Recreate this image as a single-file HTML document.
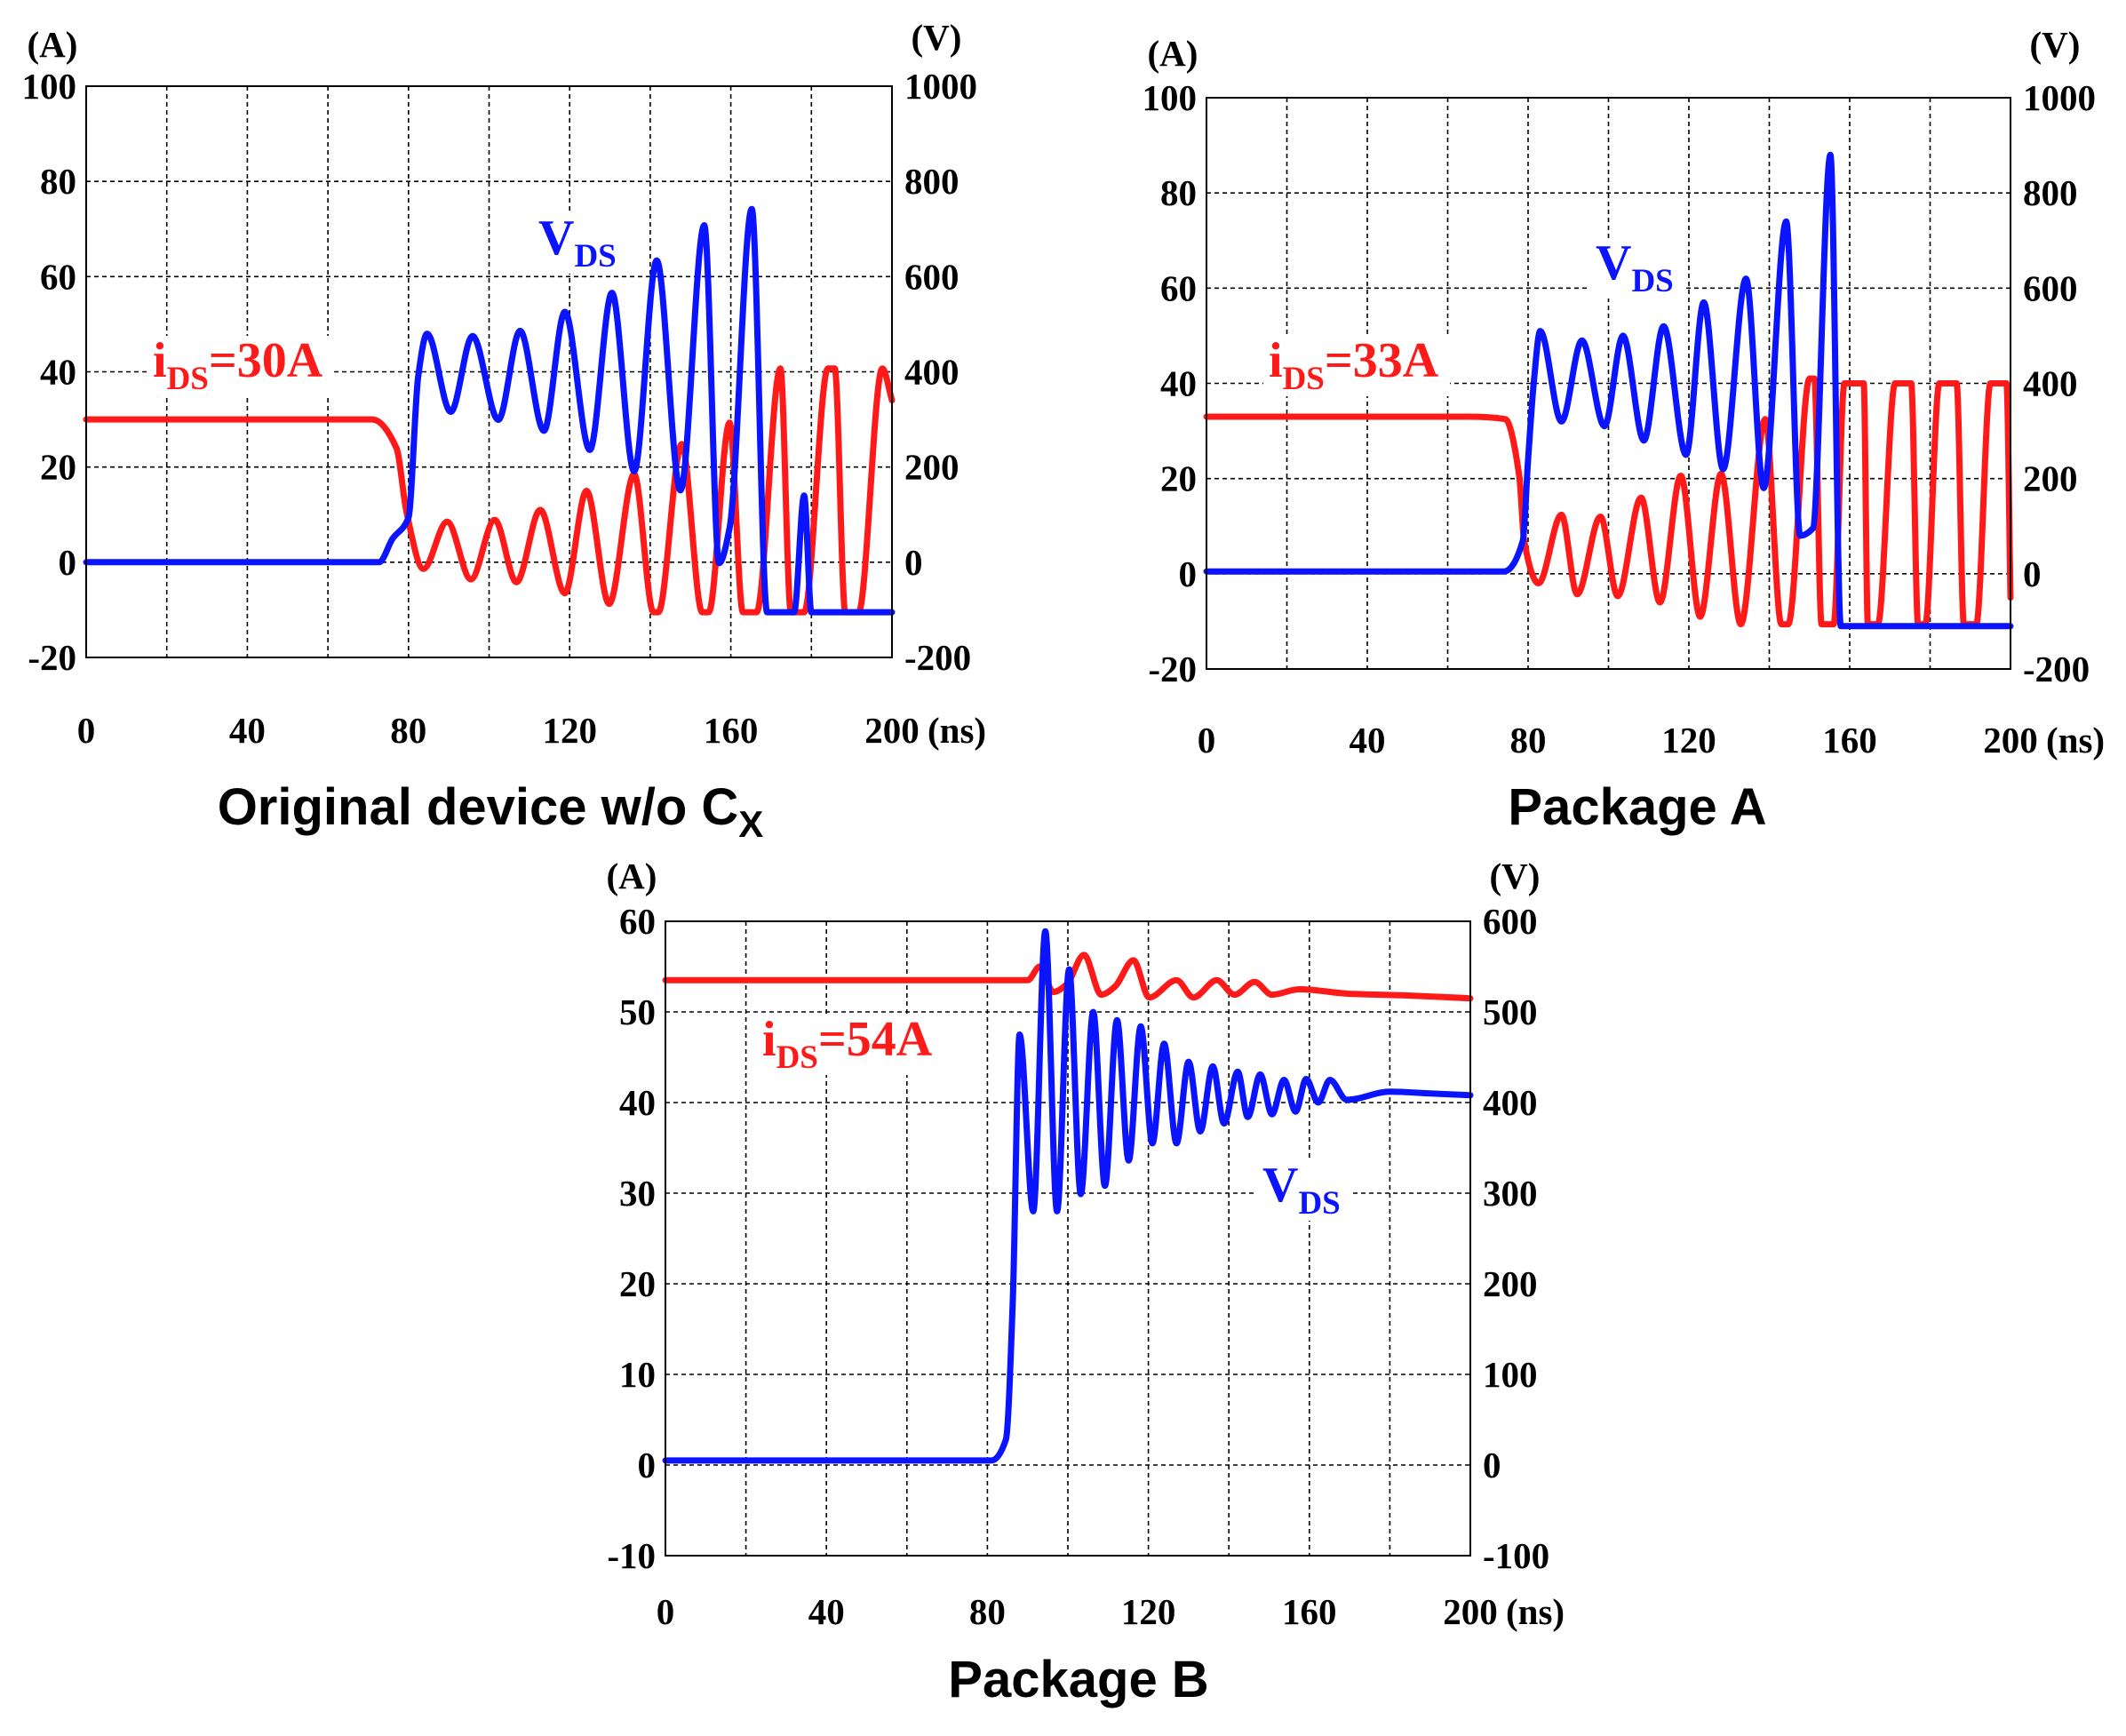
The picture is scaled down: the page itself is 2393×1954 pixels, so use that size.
<!DOCTYPE html>
<html><head><meta charset="utf-8"><style>
html,body{margin:0;padding:0;background:#fff;}
svg{display:block;}
.tk{font-family:"Liberation Serif",serif;font-weight:bold;font-size:41px;fill:#000;}
.ttl{font-family:"Liberation Sans",sans-serif;font-weight:bold;font-size:58px;fill:#000;}
.ann{font-family:"Liberation Serif",serif;font-weight:bold;font-size:56px;}
.sub{font-size:37px;}
</style></head><body>
<svg id="fig" width="2393" height="1954" viewBox="0 0 2393 1954" xmlns="http://www.w3.org/2000/svg"></svg>
<script>
// ---- Chart 1: Original device w/o Cx ----
const c1CurT = [0,71,77,79.5,83.7,89.6,95.5,101.4,106.8,112.7,118.8,124.2,129.8,136,140.8,142,147.8,152.9,154.5,159.7,163,166.4,172.3,174.9,178.2,184.1,185.8,188.4,191.7,197.6,200];
const c1Cur  = [30,30,24,10.6,-1.4,8.5,-3.6,8.9,-4.2,11,-6.5,15,-8.75,18.5,-10.5,-10.5,24.8,-10.5,-10.5,29.3,-10.5,-10.5,40.7,-10.5,-10.5,40.7,40.7,-10.5,-10.5,40.7,34];
const c1VT   = [0,72.7,76,80,82.4,84.6,90.5,95.9,102.3,107.7,113.6,118.8,125,130.5,136,141.6,147.5,153.4,157.1,159.7,165.2,169,175.7,178.2,180,200];
const c1V    = [0,0,49,94,390,480,316,475,299,486,276,526,236,566,191,634,151,708,-2,72,742,-105,-105,140,-105,-105];
// ---- Chart 2: Package A ----
const c2CurT = [0,65,74.3,77.8,79,82.6,88.3,92.2,98,102.3,108.1,112.8,118,122.8,128,132.9,139,143,144.7,150,151.2,153,156,158.7,163.5,164.5,167,171.3,175.3,177,178.8,182.3,186.6,188.4,191.5,195,199,200];
const c2Cur  = [33,33,32.5,20.6,7,-2,12.4,-4.3,12,-4.7,16,-6,20.6,-9,21,-10.6,32.5,-10.6,-10.6,41,41,-10.6,-10.6,40,40,-10.6,-10.6,40,40,-10.6,-10.6,40,40,-10.6,-10.6,40,40,-5];
const c2VT   = [0,74,78.7,80,81.5,83,88.3,93.4,99,103.6,108.8,113.7,119.3,123.7,128.5,134.2,138.6,144.2,147.7,150.8,155.2,157.8,200];
const c2V    = [5,5,70,240,410,510,320,490,310,500,280,520,250,570,220,620,180,740,80,95,880,-110,-110];
// ---- Chart 3: Package B ----
const c3CurT = [0,90,93,96.4,99.8,104,108.3,111.7,116.3,120.2,127,131.2,137,141.4,146.4,150.7,157.5,170,185,200];
const c3Cur  = [53.5,53.5,55,52.2,53.1,56.3,51.9,52.8,55.7,51.6,53.5,51.6,53.5,51.9,53.3,51.9,52.5,52,51.8,51.5];
const c3VT   = [0,81,84.6,86.3,88,91.4,94.4,97.3,100.3,103.2,106.3,109.2,112.2,115.1,118.1,121,123.9,127,130,132.9,136,138.8,142.2,144.7,147.8,150.7,153.7,156.6,159.2,162.2,165.1,169.3,180,190,200];
const c3V    = [5,5,28,179,475,280,589,280,547,299,500,308,491,336,484,355,465,355,445,368,440,377,434,384,431,387,425,390,426,400,425,403,412,410,408];
// tick labels
const c1LeftTicks = [-20,0,20,40,60,80,100];
const c1RightTicks = [-200,0,200,400,600,800,1000];
const c3LeftTicks = [-10,0,10,20,30,40,50,60];
const c3RightTicks = [-100,0,100,200,300,400,500,600];
const xTicks = [0,40,80,120,160,200];

const NS='http://www.w3.org/2000/svg';
const svg=document.getElementById('fig');
function el(tag,attrs,parent){const e=document.createElementNS(NS,tag);for(const k in attrs)e.setAttribute(k,attrs[k]);(parent||svg).appendChild(e);return e;}

// monotone cubic path (Fritsch-Carlson)
function monoPath(X,Y){
  const n=X.length;
  if(n<2)return '';
  const d=[],m=new Array(n);
  for(let i=0;i<n-1;i++){const dx=X[i+1]-X[i];d.push(dx===0?0:(Y[i+1]-Y[i])/dx);}
  m[0]=d[0];m[n-1]=d[n-2];
  for(let i=1;i<n-1;i++){
    if(d[i-1]*d[i]<=0)m[i]=0;
    else{const h0=X[i]-X[i-1],h1=X[i+1]-X[i];const w1=2*h1+h0,w2=h1+2*h0;m[i]=(w1+w2)/(w1/d[i-1]+w2/d[i]);}
  }
  let p='M'+X[0].toFixed(1)+','+Y[0].toFixed(1);
  for(let i=0;i<n-1;i++){
    const h=(X[i+1]-X[i])/3;
    p+='C'+(X[i]+h).toFixed(1)+','+(Y[i]+m[i]*h).toFixed(1)+' '+(X[i+1]-h).toFixed(1)+','+(Y[i+1]-m[i+1]*h).toFixed(1)+' '+X[i+1].toFixed(1)+','+Y[i+1].toFixed(1);
  }
  return p;
}

function chart(cfg){
  const g=el('g',{});
  
  
  const L=cfg.L,R=cfg.R,T=cfg.T,B=cfg.B;
  const xs=t=>L+(t-0)/200*(R-L);
  const ys=a=>B-(a-cfg.ymin)/(cfg.ymax-cfg.ymin)*(B-T);
  const vs=v=>ys(v/10);
  for(let t=20;t<200;t+=20){
    const ln=el('line',{x1:xs(t),x2:xs(t),y1:T,y2:B,stroke:'#000','stroke-width':1.6,'stroke-dasharray':'5,4'},g);
    
    
  }
  const lt=cfg.leftTicks;
  for(let i=1;i<lt.length-1;i++){
    const ln=el('line',{x1:L,x2:R,y1:ys(lt[i]),y2:ys(lt[i]),stroke:'#000','stroke-width':1.6,'stroke-dasharray':'5,4'},g);
    
    
  }
  cfg.anns.forEach(a=>{
    const r=el('rect',{x:a.x-6,y:a.y-46,width:a.w,height:68,fill:'#fff'},g);
    
    
  });
  function series(ts,vals,fy,color,name){
    const X=ts.map(xs),Y=vals.map(fy);
    const p=el('path',{d:monoPath(X,Y),fill:'none',stroke:color,'stroke-width':7,'stroke-linejoin':'round','stroke-linecap':'round'},g);
    
    
  }
  series(cfg.ct,cfg.c,ys,'#ff1a1a','current-trace');
  series(cfg.vt,cfg.v,vs,'#0a14ff','voltage-trace');
  const fr=el('rect',{x:L,y:T,width:R-L,height:B-T,fill:'none',stroke:'#000','stroke-width':2},g);
  
  
  lt.forEach(v=>{
    const t=el('text',{x:L-11,y:ys(v)+14,'text-anchor':'end',class:'tk'},g);t.textContent=v;
    
    
  });
  cfg.rightTicks.forEach((v,i)=>{
    const t=el('text',{x:R+14,y:ys(lt[i])+14,'text-anchor':'start',class:'tk'},g);t.textContent=v;
    
    
  });
  xTicks.forEach(v=>{
    const t=el('text',{x:xs(v),y:cfg.xl,'text-anchor':'middle',class:'tk'},g);t.textContent=v;
    
    
  });
  let u=el('text',{x:R+40,y:cfg.xl,'text-anchor':'start',class:'tk'},g);u.textContent='(ns)';
  
  
  u=el('text',{x:L-38,y:cfg.ay,'text-anchor':'middle',class:'tk'},g);u.textContent='(A)';
  
  
  u=el('text',{x:R+50,y:cfg.vy,'text-anchor':'middle',class:'tk'},g);u.textContent='(V)';
  
  
  cfg.anns.forEach(a=>{
    const t=el('text',{x:a.x,y:a.y,class:'ann',fill:a.color},g);
    
    
    const s1=el('tspan',{},t);s1.textContent=a.main;
    const s2=el('tspan',{class:'sub',dy:14},t);s2.textContent='DS';
    if(a.rest){const s3=el('tspan',{dy:-14},t);s3.textContent=a.rest;}
  });
  const tt=el('text',{x:cfg.tx,y:cfg.ty,class:'ttl','text-anchor':'middle'},g);
  
  
  const a1=el('tspan',{},tt);a1.textContent=cfg.title;
  if(cfg.titleSub){const a2=el('tspan',{dy:14,'font-size':'42px'},tt);a2.textContent=cfg.titleSub;}
}

chart({name:'chart-original-device',L:97,R:1004,T:97,B:740,ymin:-20,ymax:100,leftTicks:c1LeftTicks,rightTicks:c1RightTicks,
  ct:c1CurT,c:c1Cur,vt:c1VT,v:c1V,xl:836,ay:64,vy:56,tx:552,ty:928,title:'Original device w/o C',titleSub:'X',
  anns:[{x:172,y:424,w:210,color:'#ff1a1a',main:'i',rest:'=30A',name:'current-annotation'},
        {x:606,y:286,w:104,color:'#0a14ff',main:'V',name:'voltage-annotation'}]});
chart({name:'chart-package-a',L:1358,R:2263,T:110,B:753,ymin:-20,ymax:100,leftTicks:c1LeftTicks,rightTicks:c1RightTicks,
  ct:c2CurT,c:c2Cur,vt:c2VT,v:c2V,xl:847,ay:74,vy:64,tx:1843,ty:928,title:'Package A',
  anns:[{x:1428,y:424,w:210,color:'#ff1a1a',main:'i',rest:'=33A',name:'current-annotation'},
        {x:1796,y:314,w:104,color:'#0a14ff',main:'V',name:'voltage-annotation'}]});
chart({name:'chart-package-b',L:749,R:1655,T:1037,B:1751,ymin:-10,ymax:60,leftTicks:c3LeftTicks,rightTicks:c3RightTicks,
  ct:c3CurT,c:c3Cur,vt:c3VT,v:c3V,xl:1828,ay:1000,vy:1000,tx:1214,ty:1910,title:'Package B',
  anns:[{x:858,y:1188,w:210,color:'#ff1a1a',main:'i',rest:'=54A',name:'current-annotation'},
        {x:1421,y:1352,w:104,color:'#0a14ff',main:'V',name:'voltage-annotation'}]});
</script>
</body></html>
